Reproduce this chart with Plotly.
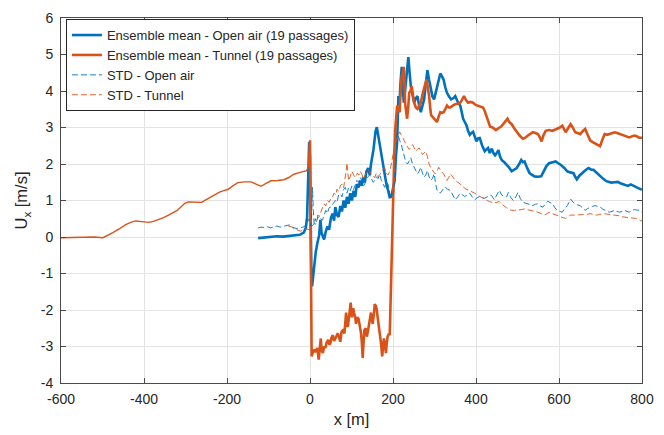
import plotly.graph_objects as go

# Ensemble mean - Open air
oa_mean = [(-125,-0.03),(-110,-0.01),(-95,0.0),(-80,0.02),(-65,0.01),(-50,0.03),(-35,0.04),(-25,0.06),(-15,0.12),(-10,0.25),(-7,0.55),(-5,1.2),(-3,2.0),(-2,2.6),(0,2.2),(1,0.5),(3,-0.8),(5,-1.35),(7,-1.1),(10,-0.7),(14,-0.4),(18,-0.16),(22,0.05),(25,0.47),(28,0.1),(31,0.02),(34,-0.07),(38,0.15),(42,0.29),(46,0.2),(50,0.5),(54,0.64),(58,0.45),(61,0.82),(65,0.6),(69,0.55),(73,0.85),(77,0.7),(81,1.0),(85,0.8),(89,1.1),(93,0.91),(97,1.2),(101,1.0),(105,1.27),(109,1.1),(113,1.45),(117,1.36),(121,1.55),(125,1.4),(128,1.63),(132,1.5),(136,1.8),(140,1.89),(144,1.7),(147,2.0),(150,2.16),(153,2.4),(156,2.7),(158,2.9),(161,3.01),(164,2.8),(168,2.52),(172,2.3),(176,1.95),(180,1.7),(184,1.45),(188,1.28),(192,1.09),(196,1.1),(200,1.3),(204,1.55),(207,2.2),(210,2.62),(213,3.86),(215,3.5),(218,4.22),(221,4.66),(224,4.0),(226,3.68),(229,4.0),(232,4.4),(235,4.7),(237,4.93),(240,4.5),(243,4.13),(247,3.9),(251,3.68),(255,3.8),(259,3.86),(263,3.6),(267,3.42),(271,3.6),(275,3.77),(279,4.2),(283,4.57),(287,4.3),(291,4.04),(295,3.85),(299,3.77),(303,3.95),(306,4.13),(310,4.3),(314,4.48),(318,4.4),(322,4.31),(326,4.1),(330,3.95),(335,3.85),(340,3.77),(345,3.8),(350,3.86),(356,3.7),(362,3.6),(366,3.4),(369,3.24),(373,3.15),(377,3.06),(381,2.9),(385,2.8),(389,2.85),(393,2.88),(397,2.75),(401,2.62),(405,2.7),(409,2.71),(415,2.5),(421,2.35),(425,2.4),(429,2.44),(433,2.3),(438,2.42),(442,2.3),(446,2.24),(450,2.3),(454,2.38),(458,2.2),(462,2.11),(468,2.05),(474,1.98),(480,1.9),(486,1.8),(492,1.85),(498,1.89),(504,2.0),(509,2.11),(513,2.05),(517,2.07),(523,1.9),(529,1.75),(535,1.7),(541,1.66),(549,1.65),(557,1.66),(561,1.75),(565,1.84),(570,1.95),(576,2.02),(584,2.05),(592,2.07),(598,2.02),(604,1.98),(612,1.9),(620,1.8),(627,1.77),(635,1.75),(639,1.65),(643,1.58),(649,1.68),(655,1.75),(663,1.82),(671,1.89),(677,1.85),(683,1.84),(691,1.75),(699,1.66),(706,1.6),(714,1.53),(720,1.5),(726,1.49),(734,1.5),(742,1.51),(748,1.47),(754,1.44),(760,1.42),(766,1.4),(773,1.44),(779,1.4),(785,1.37),(791,1.34),(797,1.31),(800,1.3)]

# Ensemble mean - Tunnel, approach segment (x < 0)
tn_mean_pre = [(-600,-0.02),(-580,-0.01),(-563,-0.02),(-550,0.0),(-539,0.01),(-520,0.0),(-499,-0.02),(-487,0.04),(-475,0.12),(-460,0.22),(-444,0.34),(-432,0.4),(-420,0.44),(-405,0.42),(-389,0.40),(-377,0.43),(-365,0.47),(-353,0.53),(-341,0.60),(-331,0.66),(-321,0.72),(-311,0.82),(-301,0.93),(-293,0.96),(-285,0.96),(-273,0.95),(-261,0.95),(-249,1.03),(-237,1.11),(-228,1.17),(-218,1.23),(-208,1.27),(-198,1.30),(-186,1.40),(-174,1.49),(-158,1.51),(-142,1.51),(-130,1.45),(-118,1.39),(-106,1.47),(-94,1.54),(-78,1.55),(-63,1.57),(-51,1.63),(-39,1.72),(-24,1.77),(-8,1.82),(-2,1.98)]

# Ensemble mean - Tunnel (x >= 0)
tn_mean = [(-2,1.98),(0,2.65),(2,-0.5),(4,-3.27),(7,-3.15),(9.5,-3.09),(13,-3.15),(17.5,-3.04),(21,-3.36),(24,-3.0),(26,-2.78),(28,-3.1),(31,-3.18),(34,-3.0),(37,-3.04),(40,-2.9),(44,-2.82),(47,-2.95),(49,-2.91),(52,-2.75),(55,-2.69),(58,-2.85),(61,-2.78),(64,-2.7),(67,-2.64),(70,-2.75),(73,-2.87),(76,-2.6),(79,-2.56),(83,-2.64),(85,-2.3),(87,-2.07),(89,-2.3),(91,-2.47),(94,-2.2),(98,-1.8),(101,-2.2),(104,-1.95),(106,-2.07),(109,-2.2),(111,-2.38),(114,-2.2),(117,-2.24),(120,-2.4),(123,-2.64),(125,-2.9),(127,-3.31),(129,-2.9),(131,-2.56),(134,-2.5),(137,-2.73),(140,-2.55),(142,-2.42),(145,-2.2),(147,-2.07),(149,-2.25),(151,-2.38),(154,-2.1),(156,-1.84),(159,-1.9),(161,-2.0),(163,-2.2),(166,-2.4),(168,-2.64),(171,-2.9),(174,-3.27),(176,-3.0),(178,-2.78),(181,-3.0),(183,-3.18),(185,-2.9),(187,-2.73),(190,-2.65),(192,-2.69),(193,-2.3),(194,-1.76),(196,-0.9),(198,-0.42),(200,1.0),(203,2.2),(205.5,2.97),(208,3.3),(210,3.6),(213,3.5),(216,3.42),(218,3.9),(221,4.4),(224,4.5),(226,4.66),(228,4.2),(229,3.68),(232,3.4),(234,3.24),(237,3.6),(239,3.95),(242,4.0),(245,4.13),(248,3.9),(251,3.68),(255,3.55),(259,3.51),(263,3.6),(267,3.68),(271,3.9),(275,4.13),(278,4.2),(281,4.31),(284,4.1),(287,3.86),(290,3.5),(292,3.33),(295,3.3),(299,3.24),(302,3.2),(306,3.15),(310,3.3),(314,3.42),(318,3.4),(322,3.42),(326,3.5),(330,3.6),(334,3.55),(338,3.55),(344,3.6),(350,3.64),(356,3.65),(362,3.68),(366,3.75),(371,3.86),(376,3.75),(381,3.68),(387,3.7),(393,3.68),(399,3.62),(405,3.6),(411,3.58),(417,3.55),(421,3.45),(425,3.33),(430,3.15),(434,3.02),(440,3.0),(448,2.93),(454,2.98),(460,3.02),(466,3.1),(472,3.2),(476,3.24),(480,3.15),(486,3.09),(492,2.98),(498,2.87),(505,2.78),(513,2.69),(519,2.72),(525,2.78),(531,2.82),(537,2.87),(543,2.85),(549,2.82),(553,2.75),(558,2.62),(563,2.8),(568,2.91),(576,2.93),(584,2.91),(590,2.94),(596,2.96),(602,3.0),(608,3.05),(612,2.95),(616,2.87),(622,2.98),(628,3.09),(633,3.0),(639,2.87),(645,2.85),(651,2.82),(657,2.9),(663,2.96),(669,2.8),(675,2.65),(681,2.6),(687,2.56),(693,2.52),(699,2.49),(704,2.65),(710,2.82),(716,2.8),(722,2.82),(728,2.85),(734,2.87),(740,2.85),(746,2.82),(752,2.8),(758,2.78),(764,2.75),(769,2.73),(775,2.75),(781,2.78),(787,2.76),(793,2.72),(800,2.72)]

# STD - Open air
oa_std = [(-125,0.25),(-118,0.27),(-110,0.26),(-102,0.28),(-95,0.25),(-88,0.28),(-80,0.30),(-72,0.27),(-65,0.28),(-58,0.31),(-50,0.33),(-44,0.28),(-38,0.25),(-30,0.23),(-22,0.25),(-15,0.28),(-10,0.32),(-5,0.45),(-2,0.5),(0,0.45),(2,0.3),(4,0.6),(6,1.36),(8,0.73),(10,0.35),(13,0.5),(16,0.4),(19,0.6),(22,0.55),(26,0.5),(30,0.46),(34,0.6),(38,0.73),(42,0.65),(46,0.8),(50,0.82),(55,0.9),(61,1.0),(65,0.95),(69,1.15),(73,1.18),(77,1.1),(81,1.3),(85,1.36),(89,1.2),(93,1.35),(97,1.27),(101,1.4),(105,1.3),(109,1.45),(113,1.55),(117,1.5),(121,1.63),(125,1.55),(129,1.4),(132,1.45),(136,1.6),(140,1.65),(144,1.71),(148,1.6),(152,1.5),(156,1.54),(160,1.65),(164,1.6),(168,1.71),(172,1.55),(176,1.45),(180,1.36),(184,1.5),(188,1.45),(192,1.2),(195,1.09),(199,1.15),(202,1.27),(205,1.9),(208,2.4),(212,2.8),(216,2.65),(220,2.53),(224,2.35),(228,2.17),(231,2.05),(235,2.0),(239,2.1),(243,2.17),(247,2.0),(251,1.91),(255,1.8),(259,1.73),(263,1.8),(267,1.91),(271,1.75),(275,1.64),(279,1.7),(283,1.82),(287,1.65),(291,1.55),(295,1.6),(299,1.73),(303,1.45),(306,1.28),(310,1.25),(314,1.2),(320,1.3),(326,1.37),(332,1.3),(338,1.28),(344,1.15),(350,1.02),(356,1.1),(362,1.2),(368,1.15),(373,1.11),(379,1.15),(385,1.2),(391,1.1),(397,1.02),(403,1.08),(409,1.11),(415,1.08),(421,1.06),(427,1.1),(433,1.15),(438,1.13),(444,1.02),(450,1.15),(456,1.28),(462,1.15),(468,1.11),(474,1.1),(478,1.22),(484,1.08),(490,1.0),(496,1.1),(501,1.22),(507,1.05),(513,0.95),(519,0.93),(525,0.91),(531,0.88),(537,0.86),(543,0.9),(549,0.91),(555,0.85),(561,0.82),(567,0.9),(573,0.98),(579,0.94),(585,0.91),(590,0.8),(596,0.73),(602,0.7),(608,0.68),(614,0.78),(620,0.86),(624,0.95),(628,1.04),(634,0.95),(639,0.91),(645,0.88),(651,0.86),(657,0.8),(663,0.73),(669,0.78),(675,0.82),(681,0.84),(687,0.86),(693,0.84),(699,0.82),(705,0.77),(710,0.73),(716,0.7),(722,0.68),(728,0.71),(734,0.73),(740,0.7),(746,0.68),(752,0.7),(758,0.73),(764,0.7),(769,0.68),(775,0.72),(781,0.75),(787,0.74),(793,0.73),(800,0.68)]

# STD - Tunnel
tn_std = [(-52,0.3),(-45,0.28),(-38,0.22),(-30,0.18),(-22,0.16),(-15,0.2),(-8,0.22),(-2,0.2),(2,0.25),(6,0.3),(10,0.37),(14,0.35),(18,0.5),(22,0.55),(26,0.7),(30,0.8),(34,0.91),(38,0.85),(42,1.0),(46,0.95),(50,1.05),(54,1.09),(58,1.2),(62,1.15),(65,1.31),(69,1.25),(73,1.4),(77,1.45),(81,1.35),(85,1.6),(87,1.8),(89,2.03),(91,1.7),(93,1.54),(97,1.65),(101,1.8),(105,1.7),(110,1.63),(114,1.75),(118,1.7),(121,1.8),(125,1.72),(128,1.6),(132,1.67),(136,1.75),(140,1.85),(144,1.8),(148,1.7),(152,1.65),(156,1.63),(160,1.75),(164,1.65),(168,1.71),(172,1.8),(176,1.85),(180,1.89),(184,1.75),(188,1.7),(192,1.8),(196,2.0),(199,2.25),(203,2.45),(207,2.6),(212,2.75),(216,2.88),(220,2.8),(224,2.7),(228,2.6),(232,2.53),(236,2.45),(239,2.4),(243,2.45),(247,2.53),(251,2.45),(255,2.35),(259,2.4),(263,2.44),(267,2.35),(271,2.26),(275,2.3),(279,2.35),(283,2.2),(287,2.0),(291,1.9),(295,1.82),(298,1.78),(302,1.73),(306,1.8),(310,1.91),(316,1.8),(322,1.73),(326,1.65),(330,1.55),(334,1.62),(338,1.73),(344,1.65),(350,1.55),(356,1.5),(362,1.46),(368,1.4),(373,1.33),(379,1.3),(385,1.28),(391,1.25),(397,1.2),(403,1.15),(409,1.11),(415,1.07),(421,1.02),(427,1.0),(433,0.97),(438,0.95),(444,0.93),(450,0.95),(456,0.97),(462,0.9),(468,0.84),(474,0.8),(480,0.75),(486,0.73),(493,0.73),(501,0.73),(509,0.75),(517,0.77),(525,0.75),(533,0.73),(541,0.7),(549,0.68),(557,0.64),(565,0.6),(571,0.64),(576,0.68),(584,0.64),(592,0.6),(598,0.58),(604,0.55),(610,0.53),(616,0.51),(622,0.55),(628,0.6),(636,0.6),(643,0.6),(651,0.6),(659,0.6),(667,0.62),(675,0.64),(682,0.62),(690,0.6),(698,0.62),(706,0.64),(714,0.63),(722,0.62),(730,0.61),(738,0.6),(746,0.58),(754,0.55),(762,0.54),(769,0.53),(777,0.52),(785,0.51),(791,0.48),(797,0.44),(800,0.45)]

x_ticks = [-600, -400, -200, 0, 200, 400, 600, 800]
y_ticks = [-4, -3, -2, -1, 0, 1, 2, 3, 4, 5, 6]

BLUE = "#0072BD"
ORANGE = "#D95319"
FONT = "Liberation Sans, Arial, sans-serif"
TXT = "#262626"

def xs(d): return [p[0] for p in d]
def ys(d): return [p[1] for p in d]

fig = go.Figure()
fig.add_trace(go.Scatter(x=xs(oa_mean), y=ys(oa_mean), mode="lines",
                         line=dict(color=BLUE, width=2.6),
                         name="Ensemble mean - Open air (19 passages)"))
fig.add_trace(go.Scatter(x=xs(tn_mean_pre), y=ys(tn_mean_pre), mode="lines",
                         line=dict(color=ORANGE, width=1.4),
                         showlegend=False, hoverinfo="skip"))
fig.add_trace(go.Scatter(x=xs(tn_mean), y=ys(tn_mean), mode="lines",
                         line=dict(color=ORANGE, width=2.6),
                         name="Ensemble mean - Tunnel (19 passages)"))
fig.add_trace(go.Scatter(x=xs(oa_std), y=ys(oa_std), mode="lines",
                         line=dict(color=BLUE, width=0.9, dash="6px,3px"),
                         name="STD - Open air"))
fig.add_trace(go.Scatter(x=xs(tn_std), y=ys(tn_std), mode="lines",
                         line=dict(color=ORANGE, width=0.9, dash="6px,3px"),
                         name="STD - Tunnel"))

axis_common = dict(
    showgrid=True, gridcolor="#e3e3e3", gridwidth=1,
    zeroline=False, showline=True, linecolor="#4a4a4a", linewidth=1,
    mirror="ticks", ticks="inside", ticklen=5, tickcolor="#4a4a4a",
    tickfont=dict(family=FONT, size=14, color=TXT),
)

fig.update_layout(
    width=664, height=435,
    margin=dict(l=61, r=12, t=10, b=52),
    paper_bgcolor="white", plot_bgcolor="white",
    font=dict(family=FONT, size=13, color=TXT),
    xaxis=dict(range=[-600, 800], tickvals=x_ticks,
               ticktext=[str(v) for v in x_ticks], ticklabelstandoff=3,
               title=dict(text="x [m]", font=dict(family=FONT, size=16.5, color=TXT), standoff=7),
               **axis_common),
    yaxis=dict(range=[-4, 6], tickvals=y_ticks,
               ticktext=[str(v) for v in y_ticks], ticklabelstandoff=4,
               title=dict(text="U<sub>x</sub> [m/s]", font=dict(family=FONT, size=16.5, color=TXT), standoff=8),
               **axis_common),
    legend=dict(x=0.0085, y=0.997, xanchor="left", yanchor="top",
                bgcolor="white", bordercolor="#262626", borderwidth=1,
                font=dict(family=FONT, size=13, color=TXT),
                itemwidth=30, tracegroupgap=0),
    showlegend=True,
)

fig.write_html("out.html")
